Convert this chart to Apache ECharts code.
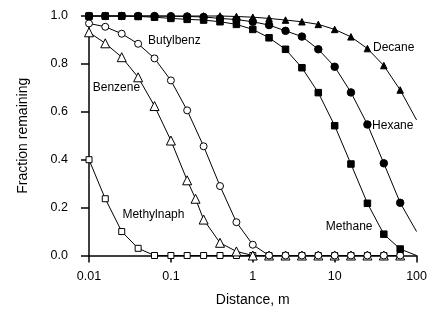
<!DOCTYPE html>
<html>
<head>
<meta charset="utf-8">
<script src="https://cdn.jsdelivr.net/npm/echarts@6/dist/echarts.min.js"></script>
<style>
  html, body { margin: 0; padding: 0; background: #fff; }
  #container { width: 430px; height: 314px; }
</style>
</head>
<body>
<div id="container"></div>
<script>
// distances (m), one marker every 0.2 decade
var dist = [0.01, 0.0158, 0.0251, 0.0398, 0.0631, 0.1, 0.158, 0.251, 0.398, 0.631,
    1, 1.58, 2.51, 3.98, 6.31, 10, 15.8, 25.1, 39.8, 63.1, 100];
var benzeneDist = [0.01, 0.0158, 0.0251, 0.0398, 0.0631, 0.1, 0.158, 0.2, 0.251, 0.398, 0.631,
    1, 1.58, 2.51, 3.98, 6.31, 10, 15.8, 25.1, 39.8, 63.1];

var decane = [1, 1, 1, 1, 1, 1, 1, 1, 1, 0.998, 0.995, 0.99, 0.983, 0.976, 0.965,
    0.944, 0.913, 0.864, 0.793, 0.691, 0.566];
var hexane = [1, 1, 1, 1, 1, 0.999, 0.998, 0.996, 0.99, 0.985, 0.976, 0.962, 0.938,
    0.914, 0.861, 0.788, 0.681, 0.547, 0.385, 0.22, 0.1];
var methane = [1, 1, 1, 0.998, 0.995, 0.99, 0.986, 0.983, 0.976, 0.965, 0.944, 0.909,
    0.861, 0.784, 0.68, 0.542, 0.382, 0.218, 0.089, 0.027, 0];
var butylbenz = [0.969, 0.955, 0.926, 0.884, 0.823, 0.731, 0.606, 0.456, 0.29, 0.139,
    0.045, 0, 0, 0, 0, 0, 0, 0, 0, 0];
var benzene = [0.932, 0.886, 0.828, 0.744, 0.624, 0.48, 0.314, 0.237, 0.15, 0.053, 0.017,
    0, 0, 0, 0, 0, 0, 0, 0, 0, 0];
var methylnaph = [0.40, 0.237, 0.10, 0.03, 0, 0, 0, 0, 0, 0, 0, 0, 0, 0, 0, 0, 0, 0, 0, 0];

var xTicks = ['0.01', '0.1', '1', '10', '100'];
var yTicks = ['0.0', '0.2', '0.4', '0.6', '0.8', '1.0'];

// label anchors in data space [distance, fraction]
var labels = {
    Decane: [29.4, 0.868],
    Hexane: [28.6, 0.542],
    Methane: [7.8, 0.119],
    Butylbenz: [0.0525, 0.897],
    Benzene: [0.0111, 0.699],
    Methylnaph: [0.0256, 0.169]
};

var FONT = '"Liberation Sans", Arial, sans-serif';

function pairs(xs, ys, lastNoMarker) {
    return ys.map(function(y, i) {
        var item = { value: [xs[i], y] };
        if (lastNoMarker && i === ys.length - 1) item.symbol = 'none';
        return item;
    });
}

function makeSeries(name, xs, ys, symbol, size, filled, lastNoMarker) {
    return {
        name: name,
        type: 'line',
        data: pairs(xs, ys, lastNoMarker),
        symbol: symbol,
        symbolSize: size,
        showAllSymbol: true,
        clip: false,
        animation: false,
        lineStyle: { color: '#000', width: 1 },
        itemStyle: {
            color: filled ? '#000' : '#fff',
            borderColor: '#000',
            borderWidth: 1
        },
        markPoint: {
            symbol: 'circle',
            symbolSize: 0,
            data: [{ coord: labels[name] }],
            label: {
                show: true,
                position: 'right',
                distance: 0,
                formatter: name,
                color: '#000',
                fontSize: 12,
                fontFamily: FONT
            }
        }
    };
}

var myChart = echarts.init(document.getElementById('container'));
myChart.setOption({
    backgroundColor: '#fff',
    animation: false,
    grid: { left: 89, right: 8, top: 16, bottom: 58.5 },
    xAxis: {
        type: 'log',
        logBase: 10,
        min: 0.01,
        max: 100,
        name: 'Distance, m',
        nameLocation: 'middle',
        nameGap: 38,
        nameTextStyle: { color: '#000', fontSize: 14, fontFamily: FONT },
        axisLine: { lineStyle: { color: '#000', width: 1.5 } },
        axisTick: { length: 7, lineStyle: { color: '#000', width: 1.5 } },
        axisLabel: {
            color: '#000', fontSize: 12.5, fontFamily: FONT, margin: 15,
            formatter: function(v) {
                var k = Math.round(Math.log10(v)) + 2;
                return xTicks[k] !== undefined ? xTicks[k] : '';
            }
        },
        splitLine: { show: false },
        minorTick: { show: false }
    },
    yAxis: {
        type: 'value',
        min: 0,
        max: 1,
        interval: 0.2,
        name: 'Fraction remaining',
        nameLocation: 'middle',
        nameGap: 59,
        nameTextStyle: { color: '#000', fontSize: 14, fontFamily: FONT },
        axisLine: { show: true, lineStyle: { color: '#000', width: 1.5 } },
        axisTick: { show: true, length: 8, lineStyle: { color: '#000', width: 1.5 } },
        axisLabel: {
            color: '#000', fontSize: 12.5, fontFamily: FONT, margin: 21,
            formatter: function(v) {
                return yTicks[Math.round(v * 5)];
            }
        },
        splitLine: { show: false }
    },
    series: [
        makeSeries('Methylnaph', dist, methylnaph, 'rect', 6, false, false),
        makeSeries('Benzene', benzeneDist, benzene, 'triangle', 9, false, false),
        makeSeries('Butylbenz', dist, butylbenz, 'circle', 7, false, false),
        makeSeries('Methane', dist, methane, 'rect', 6.5, true, true),
        makeSeries('Hexane', dist, hexane, 'circle', 7.5, true, true),
        makeSeries('Decane', dist, decane, 'triangle', 6.5, true, true)
    ]
});
</script>
</body>
</html>
